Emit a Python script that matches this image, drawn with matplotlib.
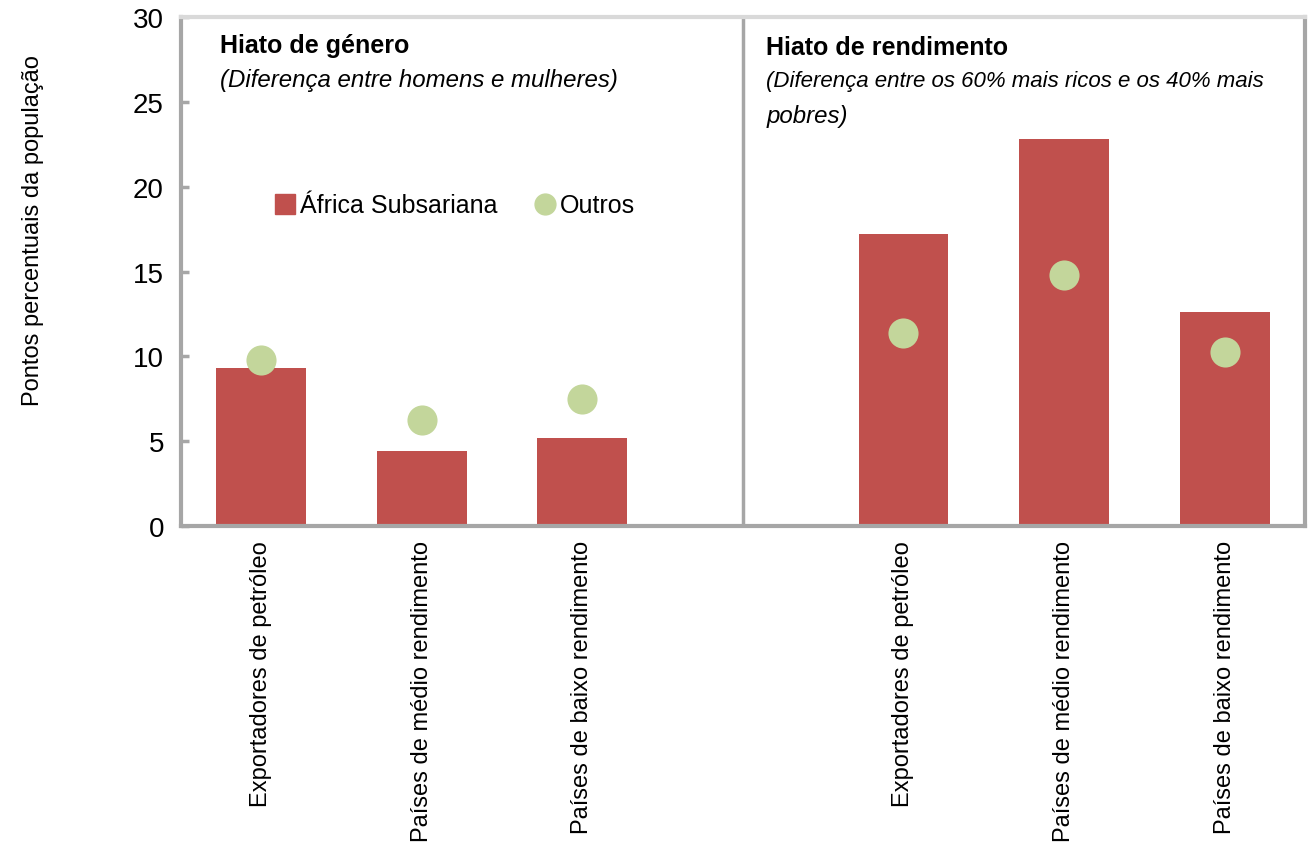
import matplotlib
matplotlib.use("Agg")
import matplotlib.pyplot as plt
from matplotlib.lines import Line2D
import numpy as np

plt.rcParams['font.family'] = ['Liberation Sans', 'DejaVu Sans']

# data
categories = ['Exportadores de petróleo', 'Países de médio rendimento', 'Países de baixo rendimento']
gender_ssa = [9.3, 4.4, 5.2]
gender_other = [9.8, 6.25, 7.5]
income_ssa = [17.2, 22.8, 12.6]
income_other = [11.4, 14.8, 10.25]

bar_col = '#C0504D'
dot_col = '#C3D69B'
grey = '#A6A6A6'

x_left = np.arange(3)
x_right = np.arange(3) + 4

fig = plt.figure(figsize=(13.09, 8.53), dpi=100)
ax = fig.add_axes([0.138, 0.382, 0.859, 0.597])

ax.bar(x_left, gender_ssa, width=0.56, color=bar_col, zorder=2)
ax.bar(x_right, income_ssa, width=0.56, color=bar_col, zorder=2)
ax.scatter(x_left, gender_other, s=470, color=dot_col, zorder=3, linewidths=0)
ax.scatter(x_right, income_other, s=470, color=dot_col, zorder=3, linewidths=0)

ax.axvline(3, color=grey, lw=2.5, zorder=1)

ax.set_xlim(-0.5, 6.5)
ax.set_ylim(0, 30)
ax.set_yticks([0, 5, 10, 15, 20, 25, 30])
ax.set_xticks(list(x_left) + list(x_right))
ax.set_xticklabels(categories + categories, rotation=90, fontsize=17)
ax.tick_params(axis='y', direction='in', length=6, width=2.5, color=grey, labelsize=20, pad=12)
ax.tick_params(axis='x', length=0, pad=10)

for s in ['left', 'bottom', 'right']:
    ax.spines[s].set_color(grey)
    ax.spines[s].set_linewidth(3)
ax.spines['top'].set_color('#D9D9D9')
ax.spines['top'].set_linewidth(3)

# panel titles
ax.text(0.035, 0.945, 'Hiato de género', transform=ax.transAxes, fontsize=18,
        fontweight='bold', va='center')
ax.text(0.035, 0.878, '(Diferença entre homens e mulheres)', transform=ax.transAxes,
        fontsize=17.3, style='italic', va='center')
ax.text(0.521, 0.941, 'Hiato de rendimento', transform=ax.transAxes, fontsize=18,
        fontweight='bold', va='center')
ax.text(0.521, 0.875, '(Diferença entre os 60% mais ricos e os 40% mais', transform=ax.transAxes,
        fontsize=16, style='italic', va='center')
ax.text(0.521, 0.807, 'pobres)', transform=ax.transAxes,
        fontsize=17.3, style='italic', va='center')

handles = [Line2D([], [], marker='s', ls='', color=bar_col, markersize=14),
           Line2D([], [], marker='o', ls='', color=dot_col, markersize=15)]
ax.legend(handles, ['África Subsariana', 'Outros'], loc='center left',
          bbox_to_anchor=(0.082, 0.63), frameon=False, ncol=2, fontsize=18,
          columnspacing=1.4, handletextpad=0.1, handlelength=1.0, borderpad=0,
          borderaxespad=0)

fig.text(0.025, 0.73, 'Pontos percentuais da população', rotation=90,
         va='center', ha='center', fontsize=17)

fig.savefig('out.png', dpi=100)
